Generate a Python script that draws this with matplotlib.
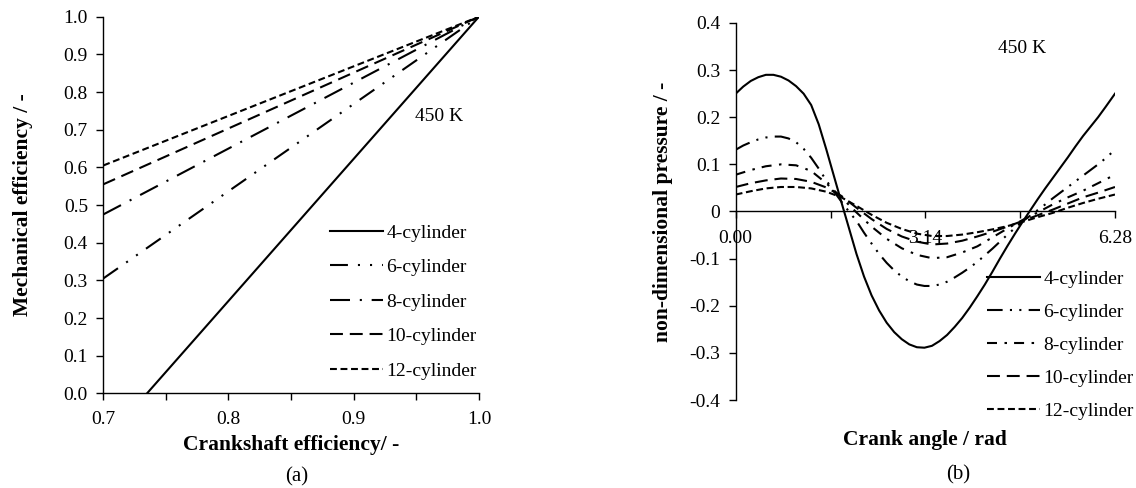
import matplotlib
matplotlib.use("Agg")
import matplotlib.pyplot as plt

plt.rcParams['font.family'] = ['Liberation Serif', 'DejaVu Serif']

# (a) mechanical vs crankshaft efficiency, 450 K
crank_eff = [0.70, 1.00]
mech_4 = [-0.132, 1.00]
mech_6 = [0.305, 1.00]
mech_8 = [0.475, 1.00]
mech_10 = [0.555, 1.00]
mech_12 = [0.605, 1.00]

# (b) non-dimensional pressure vs crank angle, 450 K
# 4- and 6-cylinder read on a finer angle step (bigger swings)
angle_fine = [0.000, 0.125, 0.250, 0.375, 0.500, 0.625, 0.750, 0.875, 1.000, 1.125, 1.250, 1.375,
              1.500, 1.625, 1.750, 1.875, 2.000, 2.125, 2.250, 2.375, 2.500, 2.625, 2.750, 2.875,
              3.000, 3.125, 3.250, 3.375, 3.500, 3.625, 3.750, 3.875, 4.000, 4.125, 4.250, 4.375,
              4.500, 4.625, 4.750, 4.875, 5.000, 5.125, 5.250, 5.375, 5.500, 5.625, 5.750, 5.875,
              6.000, 6.125, 6.280]
pres_4 = [0.250, 0.265, 0.277, 0.285, 0.290, 0.290, 0.286, 0.278, 0.266, 0.250, 0.226, 0.185,
          0.132, 0.076, 0.020, -0.035, -0.090, -0.138, -0.178, -0.210, -0.236, -0.256, -0.271, -0.282,
          -0.288, -0.289, -0.285, -0.275, -0.262, -0.245, -0.226, -0.204, -0.180, -0.155, -0.128, -0.100,
          -0.073, -0.047, -0.022, 0.002, 0.026, 0.049, 0.071, 0.093, 0.115, 0.138, 0.160, 0.180,
          0.200, 0.222, 0.250]
pres_6 = [0.131, 0.140, 0.147, 0.153, 0.157, 0.159, 0.159, 0.155, 0.147, 0.133, 0.114, 0.091,
          0.066, 0.043, 0.021, 0.000, -0.020, -0.045, -0.068, -0.090, -0.109, -0.125, -0.138, -0.148,
          -0.155, -0.158, -0.158, -0.155, -0.149, -0.140, -0.130, -0.119, -0.107, -0.093, -0.079, -0.064,
          -0.049, -0.035, -0.021, -0.009, 0.003, 0.015, 0.028, 0.040, 0.052, 0.064, 0.076, 0.088,
          0.100, 0.113, 0.131]

angle = [0.00, 0.25, 0.50, 0.75, 1.00, 1.25, 1.50, 1.75, 2.00, 2.25, 2.50, 2.75, 3.00,
         3.25, 3.50, 3.75, 4.00, 4.25, 4.50, 4.75, 5.00, 5.25, 5.50, 5.75, 6.00, 6.28]
pres_8 = [0.078, 0.088, 0.096, 0.100, 0.098, 0.086, 0.060, 0.030, -0.002, -0.032, -0.058, -0.078, -0.092,
          -0.099, -0.097, -0.087, -0.074, -0.055, -0.036, -0.018, -0.002, 0.015, 0.030, 0.044, 0.060, 0.078]
pres_10 = [0.052, 0.060, 0.066, 0.070, 0.069, 0.063, 0.051, 0.033, 0.008, -0.016, -0.037, -0.053, -0.064,
           -0.070, -0.068, -0.062, -0.053, -0.043, -0.032, -0.020, -0.008, 0.004, 0.017, 0.030, 0.040, 0.052]
pres_12 = [0.036, 0.043, 0.049, 0.052, 0.052, 0.049, 0.042, 0.030, 0.012, -0.007, -0.024, -0.037, -0.047,
           -0.052, -0.052, -0.049, -0.044, -0.038, -0.031, -0.022, -0.012, -0.003, 0.008, 0.018, 0.027, 0.036]

labels = ['4-cylinder', '6-cylinder', '8-cylinder', '10-cylinder', '12-cylinder']
lw = 1.5
styles_a = ['-', (0, (8.6, 4.8, 1, 4.8, 1, 4.8)), (0, (9.6, 4.7, 1, 4.7)), (0, (6.2, 3.3)), (0, (3.3, 1.75))]
styles_b = ['-', (0, (7.5, 3.5, 1, 3.5, 1, 3.5)), (0, (4.8, 3.6, 1.2, 3.4)), (0, (6.2, 3.3)), (0, (3.3, 1.75))]

fig = plt.figure(figsize=(11.36, 4.88), dpi=100)
ax1 = fig.add_axes([0.0909, 0.194, 0.3307, 0.7717])
ax2 = fig.add_axes([0.6476, 0.1803, 0.3339, 0.7726])

for ys, ls, lab in zip([mech_4, mech_6, mech_8, mech_10, mech_12], styles_a, labels):
    ax1.plot(crank_eff, ys, color='black', lw=lw, linestyle=ls, label=lab)
ax1.set_xlim(0.7, 1.0)
ax1.set_ylim(0.0, 1.0)
ax1.set_xticks([0.70, 0.75, 0.80, 0.85, 0.90, 0.95, 1.00])
ax1.set_xticklabels(['0.7', '', '0.8', '', '0.9', '', '1.0'])
ax1.set_yticks([i / 10 for i in range(11)])
ax1.set_yticklabels(['%.1f' % (i / 10) for i in range(11)])
ax1.set_xlabel('Crankshaft efficiency/ -', fontsize=15.5, fontweight='bold', labelpad=5)
ax1.set_ylabel('Mechanical efficiency / -', fontsize=15.5, fontweight='bold', labelpad=22)
ax1.text(0.968, 0.735, '450 K', fontsize=14, ha='center', va='center')
ax1.legend(loc='upper left', bbox_to_anchor=(330 / 1136, 1 - 224 / 488), bbox_transform=fig.transFigure,
           frameon=False, fontsize=14, handlelength=2.7, handletextpad=0.2, labelspacing=0.87,
           borderpad=0, borderaxespad=0)

series_b = [(angle_fine, pres_4), (angle_fine, pres_6), (angle, pres_8), (angle, pres_10), (angle, pres_12)]
for (xs, ys), ls, lab in zip(series_b, styles_b, labels):
    ax2.plot(xs, ys, color='black', lw=lw, linestyle=ls, label=lab)
ax2.set_xlim(0, 6.28)
ax2.set_ylim(-0.4, 0.4)
ax2.spines['bottom'].set_position(('data', 0))
ax2.set_xticks([0, 1.57, 3.14, 4.71, 6.28])
ax2.set_xticklabels(['0.00', '', '3.14', '', '6.28'])
ax2.set_yticks([0.4, 0.3, 0.2, 0.1, 0, -0.1, -0.2, -0.3, -0.4])
ax2.set_yticklabels(['0.4', '0.3', '0.2', '0.1', '0', '-0.1', '-0.2', '-0.3', '-0.4'])
ax2.set_ylabel('non-dimensional pressure / -', fontsize=15.5, fontweight='bold', labelpad=12)
ax2.text(4.74, 0.346, '450 K', fontsize=14, ha='center', va='center')
ax2.legend(loc='upper left', bbox_to_anchor=(987 / 1136, 1 - 270 / 488), bbox_transform=fig.transFigure,
           frameon=False, fontsize=14, handlelength=2.7, handletextpad=0.2, labelspacing=0.80,
           borderpad=0, borderaxespad=0)

for ax in (ax1, ax2):
    ax.spines['top'].set_visible(False)
    ax.spines['right'].set_visible(False)
    for s in ax.spines.values():
        s.set_linewidth(1.0)
    ax.tick_params(direction='out', length=5, width=1, labelsize=14, colors='black')
ax1.tick_params(axis='x', pad=8)
ax1.tick_params(axis='y', pad=6)
ax2.tick_params(axis='x', pad=8)
ax2.tick_params(axis='y', pad=6)

fig.text(925 / 1136, 1 - 440 / 488, 'Crank angle / rad', fontsize=15.5, fontweight='bold',
         ha='center', va='center')
fig.text(297 / 1136, 1 - 477 / 488, '(a)', fontsize=15, ha='center', va='center')
fig.text(958 / 1136, 1 - 475 / 488, '(b)', fontsize=15, ha='center', va='center')

fig.savefig('out.png', dpi=100)
